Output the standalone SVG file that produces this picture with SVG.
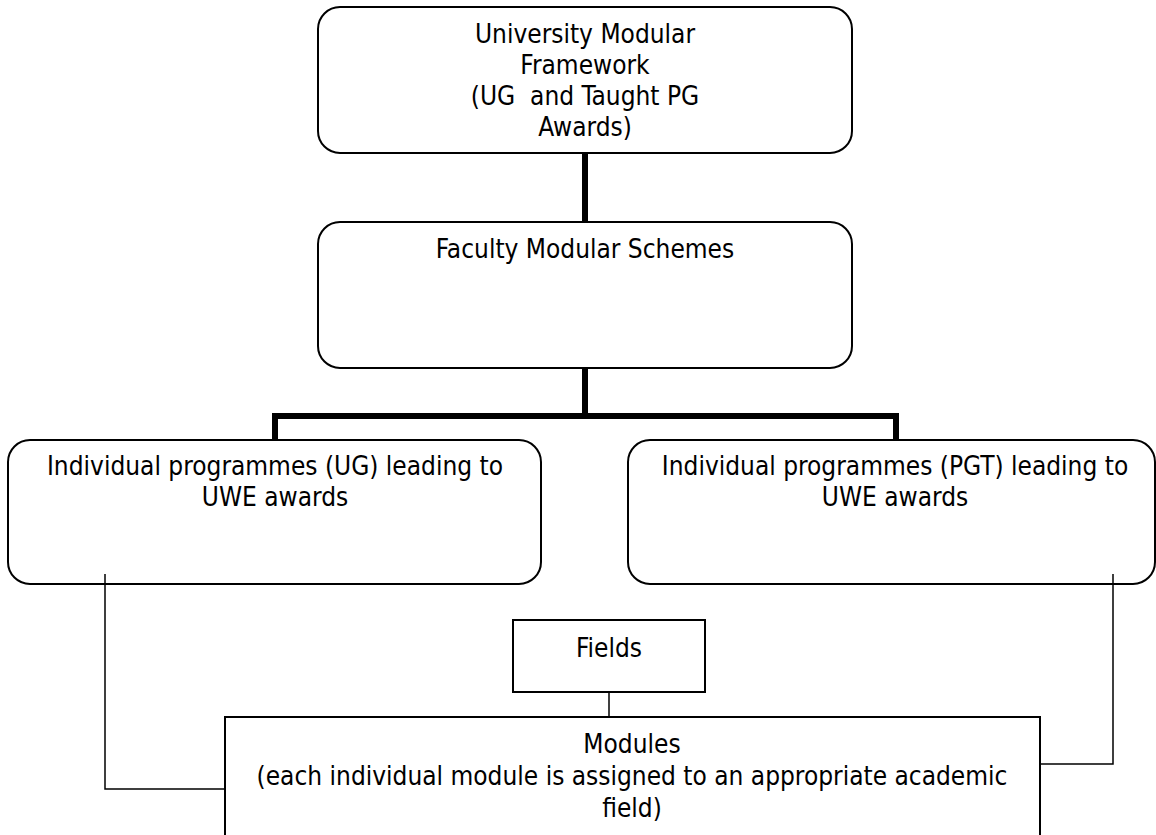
<svg xmlns="http://www.w3.org/2000/svg" width="1156" height="835" viewBox="0 0 1156 835">
<style>
.box{fill:#fff;stroke:#000;stroke-width:2}
.t{font-family:'DejaVu Sans Condensed','DejaVu Sans',sans-serif;font-size:26px;fill:#000;text-anchor:middle}
.thick{fill:none;stroke:#000;stroke-width:6}
.thin{fill:none;stroke:#000;stroke-width:1.5}
</style>
<rect width="1156" height="835" fill="#fff"/>
<g id="umf">
<rect class="box" x="318" y="7" width="534" height="146" rx="22"/>
<text class="t" x="585" y="43">University Modular</text>
<text class="t" x="585" y="74">Framework</text>
<text class="t" x="585" y="105" xml:space="preserve">(UG  and Taught PG</text>
<text class="t" x="585" y="136">Awards)</text>
</g>
<g id="fms">
<rect class="box" x="318" y="222" width="534" height="146" rx="22"/>
<text class="t" x="585" y="258">Faculty Modular Schemes</text>
</g>
<g id="ug">
<rect class="box" x="8" y="440" width="533" height="144" rx="22"/>
<text class="t" x="275" y="475">Individual programmes (UG) leading to</text>
<text class="t" x="275" y="506">UWE awards</text>
</g>
<g id="pgt">
<rect class="box" x="628" y="440" width="527" height="144" rx="22"/>
<text class="t" x="895" y="475">Individual programmes (PGT) leading to</text>
<text class="t" x="895" y="506">UWE awards</text>
</g>
<g id="fields">
<rect class="box" x="513" y="620" width="192" height="72"/>
<text class="t" x="609" y="657">Fields</text>
</g>
<g id="modules">
<rect class="box" x="225" y="717" width="815" height="130"/>
<text class="t" x="632" y="753">Modules</text>
<text class="t" x="632" y="785">(each individual module is assigned to an appropriate academic</text>
<text class="t" x="632" y="817">field)</text>
</g>
<g id="connectors">
<path class="thick" d="M585 154V221"/>
<path class="thick" d="M585 369V416M275 439V416H896V439"/>
<path class="thin" d="M105 574V789H224"/>
<path class="thin" d="M1113 574V764H1041"/>
<path class="thin" d="M609 693V716"/>
</g>
</svg>
